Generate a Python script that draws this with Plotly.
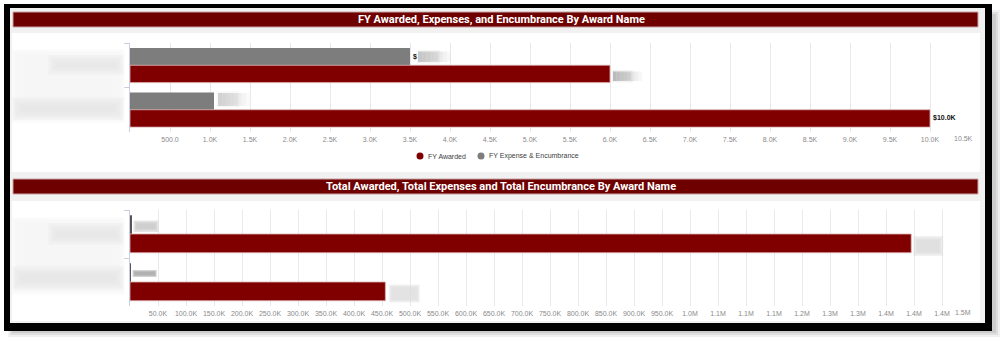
import plotly.graph_objects as go

W, H = 1004, 345

# ---- data ----
categories = ["Award A", "Award B"]

fy_awarded = [6000, 10000]
fy_expense_encumbrance = [3500, 1050]

total_awarded = [1395000, 456000]
total_expense_encumbrance = [3500, 1050]

fy_tickvals = [500, 1000, 1500, 2000, 2500, 3000, 3500, 4000, 4500, 5000, 5500,
               6000, 6500, 7000, 7500, 8000, 8500, 9000, 9500, 10000, 10500]
fy_ticktext = ["500.0", "1.0K", "1.5K", "2.0K", "2.5K", "3.0K", "3.5K", "4.0K", "4.5K",
               "5.0K", "5.5K", "6.0K", "6.5K", "7.0K", "7.5K", "8.0K", "8.5K", "9.0K",
               "9.5K", "10.0K", "10.5K"]

total_tickvals = [50000 * i for i in range(1, 31)]
total_ticktext = ["50.0K", "100.0K", "150.0K", "200.0K", "250.0K", "300.0K", "350.0K",
                  "400.0K", "450.0K", "500.0K", "550.0K", "600.0K", "650.0K", "700.0K",
                  "750.0K", "800.0K", "850.0K", "900.0K", "950.0K", "1.0M", "1.1M",
                  "1.1M", "1.1M", "1.2M", "1.3M", "1.3M", "1.4M", "1.4M", "1.4M", "1.5M"]

fy_text_expense = ["$", ""]
fy_text_awarded = ["", "$10.0K"]

MAROON = "#800000"
TITLE_RED = "#6e0000"
GRAY = "#7d7d7d"
PANEL_BG = "#f1f1f1"
GRID = "#e8e8ee"
AXIS_LINE = "#c9cde0"
TICK_FONT = dict(family="Liberation Sans, Arial, sans-serif", size=7, color="#8a8a8a")


def fx(x):
    return x / W


def fy(y):
    return 1 - y / H


shapes = []
annotations = []


def rect(x0, y0, x1, y1, fill, line=None, lw=0, opacity=1.0, layer="below"):
    shapes.append(dict(type="rect", xref="paper", yref="paper",
                       x0=fx(x0), x1=fx(x1), y0=fy(y1), y1=fy(y0),
                       fillcolor=fill, opacity=opacity, layer=layer,
                       line=dict(color=line or fill, width=lw)))


def soft_block(x0, y0, x1, y1, color, spread=3.0, steps=5, alpha=0.28,
               xref="paper", xanchor=None, layer="above"):
    """Soft-edged block: a stack of translucent rectangles shrinking inward."""
    for k in range(steps):
        d = spread - k * (2 * spread / (steps - 1))
        a0, a1 = x0 - d, x1 + d
        b0, b1 = y0 - d, y1 + d
        if a1 <= a0 or b1 <= b0:
            continue
        shp = dict(type="rect", yref="paper", y0=fy(b1), y1=fy(b0),
                   fillcolor=color, opacity=alpha, layer=layer, line=dict(width=0))
        if xanchor is None:
            shp.update(xref="paper", x0=fx(a0), x1=fx(a1))
        else:
            shp.update(xref=xref, xsizemode="pixel", xanchor=xanchor, x0=a0, x1=a1)
        shapes.append(shp)


def fade_block(x0, y0, x1, y1, color, xref, xanchor, strips=8, alpha=0.9):
    """Horizontal fade from left to right, anchored at a bar end."""
    wdt = (x1 - x0) / strips
    for i in range(strips):
        op = alpha * (1 - i / strips)
        shapes.append(dict(type="rect", xref=xref, yref="paper", xsizemode="pixel",
                           xanchor=xanchor, x0=x0 + i * wdt, x1=x0 + (i + 1) * wdt,
                           y0=fy(y1), y1=fy(y0), fillcolor=color, opacity=op,
                           layer="above", line=dict(width=0)))
    soft_block(x0, y0, x1 - wdt * 3, y1, color, spread=1.5, steps=3, alpha=0.15,
               xref=xref, xanchor=xanchor)


# ---- frame and panels ----
for d, op in [(0, 0.10), (2, 0.12), (4, 0.15)]:
    rect(8 + d, 10 + d, 1000 - d, 337 - d, "#6a6a6a", opacity=op)
rect(4, 4, 992, 331, "#000000")
rect(10, 8, 985, 323, PANEL_BG)
rect(12, 33, 980, 172, "#ffffff")
rect(12, 201, 980, 321, "#ffffff")

# title bars
rect(13, 12, 978, 27, TITLE_RED, line="#c9a3a3", lw=1)
rect(13, 179, 978, 194, TITLE_RED, line="#c9a3a3", lw=1)

TITLE_FONT = dict(family="Roboto, Arial, sans-serif", size=11, color="#ffffff", weight="bold")
annotations.append(dict(text="FY Awarded, Expenses, and Encumbrance By Award Name",
                        x=fx(501), y=fy(19.5), xref="paper", yref="paper",
                        xanchor="center", yanchor="middle", showarrow=False, font=TITLE_FONT))
annotations.append(dict(text="Total Awarded, Total Expenses and Total Encumbrance By Award Name",
                        x=fx(501), y=fy(186.5), xref="paper", yref="paper",
                        xanchor="center", yanchor="middle", showarrow=False, font=TITLE_FONT))

# the last tick label of each axis sits pulled in from the plot edge
for ticktext, label_y in [(fy_ticktext, 138.5), (total_ticktext, 312.5)]:
    annotations.append(dict(text=ticktext[-1], x=fx(963), y=fy(label_y), xref="paper",
                            yref="paper", xanchor="center", yanchor="middle",
                            showarrow=False, font=TICK_FONT))
fy_axis_text = fy_ticktext[:-1] + [""]
total_axis_text = total_ticktext[:-1] + [""]

# redacted category names
soft_block(14, 52, 122, 120, "#f5f5f5", spread=3, alpha=0.3)
soft_block(52, 59, 120, 71, "#e2e2e2", spread=4, alpha=0.22)
soft_block(16, 101, 120, 116, "#e4e4e4", spread=4, alpha=0.22)
soft_block(14, 220, 122, 292, "#f5f5f5", spread=3, alpha=0.3)
soft_block(52, 227, 120, 241, "#e2e2e2", spread=4, alpha=0.22)
soft_block(16, 270, 120, 286, "#e4e4e4", spread=4, alpha=0.22)

# redacted value labels, anchored to the bar ends
fade_block(8, 51.5, 41, 62, "#c4c4c4", "x", fy_expense_encumbrance[0])
fade_block(3, 71.5, 32, 81, "#b8b8b8", "x", fy_awarded[0])
fade_block(4, 93, 36, 106, "#d0d0d0", "x", fy_expense_encumbrance[1])
soft_block(3, 222, 25, 230.5, "#c6c6c6", spread=1.5, steps=3, alpha=0.45, xref="x2",
           xanchor=total_expense_encumbrance[0])
soft_block(3, 271, 25, 276, "#a6a6a6", spread=1, steps=3, alpha=0.5, xref="x2",
           xanchor=total_expense_encumbrance[1])
soft_block(4, 238, 30, 254, "#dadada", spread=2, steps=4, alpha=0.35, xref="x2",
           xanchor=total_awarded[0])
soft_block(5, 286, 33, 301, "#dcdcdc", spread=1.5, steps=4, alpha=0.35, xref="x2",
           xanchor=total_awarded[1])

# legend for the FY chart
LEGEND_FONT = dict(family="Liberation Sans, Arial, sans-serif", size=7, color="#404040")
for cx, color, label in [(420, MAROON, "FY Awarded"), (481, GRAY, "FY Expense & Encumbrance")]:
    shapes.append(dict(type="circle", xref="paper", yref="paper",
                       x0=fx(cx - 3.5), x1=fx(cx + 3.5), y0=fy(159.5), y1=fy(152.5),
                       fillcolor=color, line=dict(width=0), layer="above"))
    annotations.append(dict(text=label, x=fx(cx + 6), y=fy(156), xref="paper", yref="paper",
                            xanchor="left", yanchor="middle", showarrow=False, font=LEGEND_FONT))

# ---- bars ----
LABEL_FONT = dict(family="Liberation Sans, Arial, sans-serif", size=7, color="#111111", weight="bold")
fig = go.Figure()
fig.add_trace(go.Bar(name="FY Expense & Encumbrance", y=categories, x=fy_expense_encumbrance,
                     orientation="h", marker=dict(color=GRAY, line=dict(width=0)),
                     text=fy_text_expense, textposition="outside", cliponaxis=False,
                     textfont=LABEL_FONT, xaxis="x", yaxis="y"))
fig.add_trace(go.Bar(name="FY Awarded", y=categories, x=fy_awarded,
                     orientation="h", marker=dict(color=MAROON, line=dict(color="#d8b0b0", width=0.8)),
                     text=fy_text_awarded, textposition="outside", cliponaxis=False,
                     textfont=LABEL_FONT, xaxis="x", yaxis="y"))
fig.add_trace(go.Bar(name="Total Expense & Encumbrance", y=categories, x=total_expense_encumbrance,
                     orientation="h", marker=dict(color="#555555", line=dict(width=0)),
                     xaxis="x2", yaxis="y2"))
fig.add_trace(go.Bar(name="Total Awarded", y=categories, x=total_awarded,
                     orientation="h", marker=dict(color=MAROON, line=dict(color="#d8b0b0", width=0.8)),
                     xaxis="x2", yaxis="y2"))

xdom = [fx(130), fx(970)]
common_x = dict(domain=xdom, showgrid=True, gridcolor=GRID, gridwidth=1, zeroline=False,
                showline=False, ticks="", tickfont=TICK_FONT, tickangle=0, fixedrange=True,
                ticklabelstandoff=2)
common_y = dict(type="category", autorange="reversed", showgrid=False, zeroline=False,
                showline=True, linecolor=AXIS_LINE, linewidth=1, ticks="outside",
                tickson="boundaries", ticklen=5, tickcolor=AXIS_LINE, showticklabels=False)

fig.update_layout(
    width=W, height=H, autosize=False,
    margin=dict(l=0, r=0, t=0, b=0, pad=0),
    paper_bgcolor="#ffffff", plot_bgcolor="rgba(0,0,0,0)",
    barmode="group", bargap=0.22, bargroupgap=0,
    showlegend=False,
    xaxis=dict(common_x, anchor="y", range=[0, 10500], tickvals=fy_tickvals, ticktext=fy_axis_text),
    yaxis=dict(common_y, anchor="x", domain=[fy(132), fy(43)]),
    xaxis2=dict(common_x, anchor="y2", range=[0, 1500000], tickvals=total_tickvals,
                ticktext=total_axis_text),
    yaxis2=dict(common_y, anchor="x2", domain=[fy(306), fy(210)]),
    shapes=shapes,
    annotations=annotations,
)

fig.write_html("out.html")
